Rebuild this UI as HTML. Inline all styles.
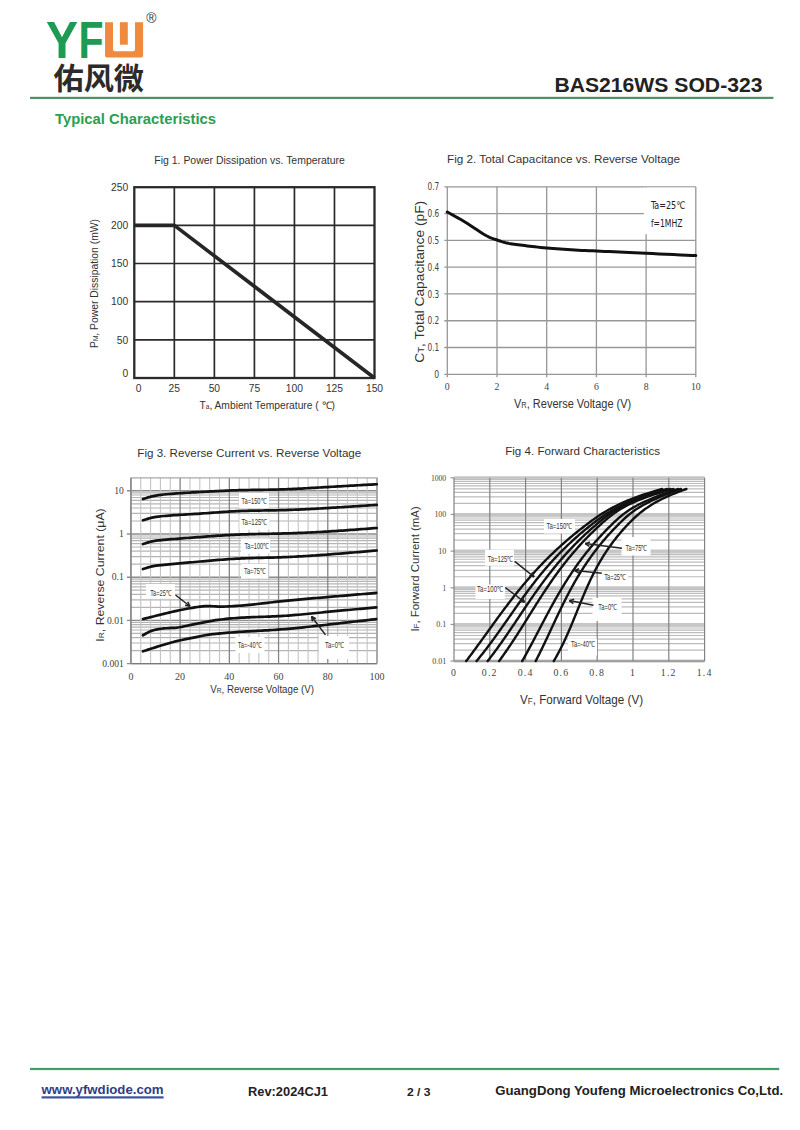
<!DOCTYPE html>
<html><head><meta charset="utf-8"><title>BAS216WS SOD-323</title>
<style>
html,body{margin:0;padding:0;background:#fff;}
body{width:800px;height:1130px;position:relative;overflow:hidden;font-family:'Liberation Sans',Arial,sans-serif;}
.abs{position:absolute;white-space:nowrap;}
#logoY{left:44px;top:10px;}
svg#page{position:absolute;left:0;top:0;}
</style></head>
<body>
<svg id="page" width="800" height="1130" viewBox="0 0 800 1130">
<!-- header -->
<text transform="translate(45.98,57.6) scale(0.924,1)" font-family="'Liberation Sans', Arial, sans-serif" font-weight="bold" font-size="52" fill="#1d9b53">Y</text>
<text transform="translate(78.45,57.6) scale(0.79,1)" font-family="'Liberation Sans', Arial, sans-serif" font-weight="bold" font-size="52" fill="#1d9b53">F</text>
<path d="M105 22.2 H113 V49.3 Q113 51.3 115 51.3 H133 Q135 51.3 135 49.3 V22.2 H143.1 V55.5 Q143.1 57.6 141 57.6 H107 Q105 57.6 105 55.5 Z" fill="#f08a3e"/>
<rect x="119.9" y="22.2" width="7.9" height="22.5" fill="#f08a3e"/>
<text x="146.3" y="22.95" font-family="'Liberation Sans', Arial, sans-serif" font-size="13.8" fill="#333">®</text>
<text x="53.5" y="88.5" font-family="'Liberation Sans','Noto Sans CJK SC','WenQuanYi Zen Hei',sans-serif" font-weight="bold" font-size="30" fill="#2b2b2b" textLength="90.5" lengthAdjust="spacingAndGlyphs">佑风微</text>
<text x="554.4" y="91.9" font-family="'Liberation Sans', Arial, sans-serif" font-weight="bold" font-size="21" fill="#222" textLength="208.1" lengthAdjust="spacingAndGlyphs">BAS216WS SOD-323</text>
<rect x="30" y="96.8" width="743.4" height="2.2" fill="#4f8f69"/>
<text x="55" y="124.4" font-family="'Liberation Sans', Arial, sans-serif" font-weight="bold" font-size="14.6" fill="#2c9e52" textLength="161" lengthAdjust="spacingAndGlyphs">Typical Characteristics</text>
<line x1="174.33" y1="187.20" x2="174.33" y2="378.00" stroke="#2a2a2a" stroke-width="1.7"/>
<line x1="214.37" y1="187.20" x2="214.37" y2="378.00" stroke="#2a2a2a" stroke-width="1.7"/>
<line x1="254.40" y1="187.20" x2="254.40" y2="378.00" stroke="#2a2a2a" stroke-width="1.7"/>
<line x1="294.43" y1="187.20" x2="294.43" y2="378.00" stroke="#2a2a2a" stroke-width="1.7"/>
<line x1="334.47" y1="187.20" x2="334.47" y2="378.00" stroke="#2a2a2a" stroke-width="1.7"/>
<line x1="134.30" y1="225.36" x2="374.50" y2="225.36" stroke="#2a2a2a" stroke-width="1.7"/>
<line x1="134.30" y1="263.52" x2="374.50" y2="263.52" stroke="#2a2a2a" stroke-width="1.7"/>
<line x1="134.30" y1="301.68" x2="374.50" y2="301.68" stroke="#2a2a2a" stroke-width="1.7"/>
<line x1="134.30" y1="339.84" x2="374.50" y2="339.84" stroke="#2a2a2a" stroke-width="1.7"/>
<rect x="134.30" y="187.20" width="240.20" height="190.80" fill="none" stroke="#2a2a2a" stroke-width="2.3"/>
<polyline points="134.30,225.36 174.33,225.36 374.50,378.00" fill="none" stroke="#262626" stroke-width="3.6" stroke-linejoin="round" stroke-linecap="butt"/>
<text x="128.30" y="190.90" font-family="'Liberation Sans', Arial, sans-serif" font-size="10.3" font-weight="normal" fill="#333" text-anchor="end" >250</text>
<text x="128.30" y="229.06" font-family="'Liberation Sans', Arial, sans-serif" font-size="10.3" font-weight="normal" fill="#333" text-anchor="end" >200</text>
<text x="128.30" y="267.22" font-family="'Liberation Sans', Arial, sans-serif" font-size="10.3" font-weight="normal" fill="#333" text-anchor="end" >150</text>
<text x="128.30" y="305.38" font-family="'Liberation Sans', Arial, sans-serif" font-size="10.3" font-weight="normal" fill="#333" text-anchor="end" >100</text>
<text x="128.30" y="343.54" font-family="'Liberation Sans', Arial, sans-serif" font-size="10.3" font-weight="normal" fill="#333" text-anchor="end" >50</text>
<text x="128.30" y="377.40" font-family="'Liberation Sans', Arial, sans-serif" font-size="10.3" font-weight="normal" fill="#333" text-anchor="end" >0</text>
<text x="138.70" y="391.50" font-family="'Liberation Sans', Arial, sans-serif" font-size="10.3" font-weight="normal" fill="#333" text-anchor="middle" >0</text>
<text x="174.33" y="391.50" font-family="'Liberation Sans', Arial, sans-serif" font-size="10.3" font-weight="normal" fill="#333" text-anchor="middle" >25</text>
<text x="214.37" y="391.50" font-family="'Liberation Sans', Arial, sans-serif" font-size="10.3" font-weight="normal" fill="#333" text-anchor="middle" >50</text>
<text x="254.40" y="391.50" font-family="'Liberation Sans', Arial, sans-serif" font-size="10.3" font-weight="normal" fill="#333" text-anchor="middle" >75</text>
<text x="294.43" y="391.50" font-family="'Liberation Sans', Arial, sans-serif" font-size="10.3" font-weight="normal" fill="#333" text-anchor="middle" >100</text>
<text x="334.47" y="391.50" font-family="'Liberation Sans', Arial, sans-serif" font-size="10.3" font-weight="normal" fill="#333" text-anchor="middle" >125</text>
<text x="374.50" y="391.50" font-family="'Liberation Sans', Arial, sans-serif" font-size="10.3" font-weight="normal" fill="#333" text-anchor="middle" >150</text>
<text x="199.50" y="409.00" font-family="'Liberation Sans', Arial, sans-serif" font-size="10.3" font-weight="normal" fill="#333" text-anchor="start" textLength="135.50" lengthAdjust="spacingAndGlyphs" >T<tspan font-size="6.5">a</tspan>, Ambient Temperature ( ℃)</text>
<text transform="translate(97.80,348.00) rotate(-90)" font-family="'Liberation Sans', Arial, sans-serif" font-size="10.3" font-weight="normal" fill="#333" textLength="129.00" lengthAdjust="spacingAndGlyphs">P<tspan font-size="6.5">M</tspan>, Power Dissipation (mW)</text>
<text x="154.30" y="164.30" font-family="'Liberation Sans', Arial, sans-serif" font-size="11.0" font-weight="normal" fill="#333" text-anchor="start" textLength="190.60" lengthAdjust="spacingAndGlyphs" >Fig 1. Power Dissipation vs. Temperature</text>
<line x1="447.30" y1="186.80" x2="447.30" y2="377.30" stroke="#979797" stroke-width="1.3"/>
<line x1="497.00" y1="186.80" x2="497.00" y2="377.30" stroke="#979797" stroke-width="1.3"/>
<line x1="546.70" y1="186.80" x2="546.70" y2="377.30" stroke="#979797" stroke-width="1.3"/>
<line x1="596.40" y1="186.80" x2="596.40" y2="377.30" stroke="#979797" stroke-width="1.3"/>
<line x1="646.10" y1="186.80" x2="646.10" y2="377.30" stroke="#979797" stroke-width="1.3"/>
<line x1="695.80" y1="186.80" x2="695.80" y2="377.30" stroke="#979797" stroke-width="1.3"/>
<line x1="444.30" y1="186.80" x2="695.80" y2="186.80" stroke="#979797" stroke-width="1.3"/>
<line x1="444.30" y1="213.59" x2="695.80" y2="213.59" stroke="#979797" stroke-width="1.3"/>
<line x1="444.30" y1="240.37" x2="695.80" y2="240.37" stroke="#979797" stroke-width="1.3"/>
<line x1="444.30" y1="267.16" x2="695.80" y2="267.16" stroke="#979797" stroke-width="1.3"/>
<line x1="444.30" y1="293.94" x2="695.80" y2="293.94" stroke="#979797" stroke-width="1.3"/>
<line x1="444.30" y1="320.73" x2="695.80" y2="320.73" stroke="#979797" stroke-width="1.3"/>
<line x1="444.30" y1="347.51" x2="695.80" y2="347.51" stroke="#979797" stroke-width="1.3"/>
<line x1="444.30" y1="374.30" x2="695.80" y2="374.30" stroke="#979797" stroke-width="1.3"/>
<rect x="643.80" y="187.60" width="51.20" height="46.60" fill="#fff"/>
<polyline points="447.30,212.00 448.64,212.75 450.41,213.73 452.51,214.89 454.86,216.19 457.37,217.59 459.94,219.05 462.50,220.54 464.94,222.00 467.40,223.54 469.99,225.23 472.67,227.01 475.36,228.81 478.02,230.58 480.56,232.24 482.93,233.74 485.07,235.00 486.96,236.02 488.64,236.85 490.16,237.53 491.56,238.10 492.91,238.59 494.23,239.05 495.58,239.51 497.00,240.00 498.44,240.51 499.83,240.99 501.20,241.44 502.58,241.88 503.98,242.28 505.45,242.67 507.01,243.04 508.68,243.40 510.45,243.73 512.27,244.03 514.16,244.30 516.12,244.56 518.16,244.81 520.29,245.06 522.51,245.32 524.83,245.60 527.25,245.89 529.75,246.20 532.34,246.50 535.02,246.81 537.79,247.12 540.66,247.42 543.63,247.72 546.70,248.00 549.90,248.27 553.24,248.54 556.69,248.81 560.23,249.06 563.83,249.31 567.47,249.55 571.13,249.78 574.78,250.00 578.37,250.20 581.90,250.38 585.42,250.55 588.99,250.71 592.67,250.86 596.50,251.03 600.54,251.21 604.85,251.40 609.41,251.61 614.18,251.83 619.13,252.06 624.25,252.29 629.52,252.54 634.93,252.79 640.46,253.04 646.10,253.30 652.25,253.58 659.10,253.90 666.30,254.23 673.53,254.57 680.43,254.89 686.67,255.18 691.91,255.42 695.80,255.60" fill="none" stroke="#111" stroke-width="3.0" stroke-linejoin="round" stroke-linecap="round"/>
<text x="650.90" y="208.70" font-family="'DejaVu Sans Condensed', 'Liberation Sans Narrow', 'Liberation Sans', sans-serif" font-size="10.5" font-weight="normal" fill="#222" text-anchor="start" textLength="34.40" lengthAdjust="spacingAndGlyphs" >Ta=25℃</text>
<text x="650.90" y="226.60" font-family="'DejaVu Sans Condensed', 'Liberation Sans Narrow', 'Liberation Sans', sans-serif" font-size="10.5" font-weight="normal" fill="#222" text-anchor="start" textLength="31.60" lengthAdjust="spacingAndGlyphs" >f=1MHZ</text>
<text x="439.20" y="190.40" font-family="'DejaVu Sans Condensed', 'Liberation Sans Narrow', 'Liberation Sans', sans-serif" font-size="10" font-weight="normal" fill="#444" text-anchor="end" textLength="11.70" lengthAdjust="spacingAndGlyphs" >0.7</text>
<text x="439.20" y="217.19" font-family="'DejaVu Sans Condensed', 'Liberation Sans Narrow', 'Liberation Sans', sans-serif" font-size="10" font-weight="normal" fill="#444" text-anchor="end" textLength="11.70" lengthAdjust="spacingAndGlyphs" >0.6</text>
<text x="439.20" y="243.97" font-family="'DejaVu Sans Condensed', 'Liberation Sans Narrow', 'Liberation Sans', sans-serif" font-size="10" font-weight="normal" fill="#444" text-anchor="end" textLength="11.70" lengthAdjust="spacingAndGlyphs" >0.5</text>
<text x="439.20" y="270.76" font-family="'DejaVu Sans Condensed', 'Liberation Sans Narrow', 'Liberation Sans', sans-serif" font-size="10" font-weight="normal" fill="#444" text-anchor="end" textLength="11.70" lengthAdjust="spacingAndGlyphs" >0.4</text>
<text x="439.20" y="297.54" font-family="'DejaVu Sans Condensed', 'Liberation Sans Narrow', 'Liberation Sans', sans-serif" font-size="10" font-weight="normal" fill="#444" text-anchor="end" textLength="11.70" lengthAdjust="spacingAndGlyphs" >0.3</text>
<text x="439.20" y="324.33" font-family="'DejaVu Sans Condensed', 'Liberation Sans Narrow', 'Liberation Sans', sans-serif" font-size="10" font-weight="normal" fill="#444" text-anchor="end" textLength="11.70" lengthAdjust="spacingAndGlyphs" >0.2</text>
<text x="439.20" y="351.11" font-family="'DejaVu Sans Condensed', 'Liberation Sans Narrow', 'Liberation Sans', sans-serif" font-size="10" font-weight="normal" fill="#444" text-anchor="end" textLength="11.70" lengthAdjust="spacingAndGlyphs" >0.1</text>
<text x="439.20" y="377.90" font-family="'DejaVu Sans Condensed', 'Liberation Sans Narrow', 'Liberation Sans', sans-serif" font-size="10" font-weight="normal" fill="#444" text-anchor="end" textLength="4.90" lengthAdjust="spacingAndGlyphs" >0</text>
<text x="447.30" y="390.30" font-family="'Liberation Serif', 'Times New Roman', serif" font-size="9.8" font-weight="normal" fill="#444" text-anchor="middle" >0</text>
<text x="497.00" y="390.30" font-family="'Liberation Serif', 'Times New Roman', serif" font-size="9.8" font-weight="normal" fill="#444" text-anchor="middle" >2</text>
<text x="546.70" y="390.30" font-family="'Liberation Serif', 'Times New Roman', serif" font-size="9.8" font-weight="normal" fill="#444" text-anchor="middle" >4</text>
<text x="596.40" y="390.30" font-family="'Liberation Serif', 'Times New Roman', serif" font-size="9.8" font-weight="normal" fill="#444" text-anchor="middle" >6</text>
<text x="646.10" y="390.30" font-family="'Liberation Serif', 'Times New Roman', serif" font-size="9.8" font-weight="normal" fill="#444" text-anchor="middle" >8</text>
<text x="695.80" y="390.30" font-family="'Liberation Serif', 'Times New Roman', serif" font-size="9.8" font-weight="normal" fill="#444" text-anchor="middle" >10</text>
<text x="514.00" y="408.30" font-family="'Liberation Sans', Arial, sans-serif" font-size="12.5" font-weight="normal" fill="#333" text-anchor="start" textLength="117.20" lengthAdjust="spacingAndGlyphs" >V<tspan font-size="8.5">R</tspan>, Reverse Voltage (V)</text>
<text transform="translate(423.90,362.80) rotate(-90)" font-family="'Liberation Sans', Arial, sans-serif" font-size="12.8" font-weight="normal" fill="#333" textLength="162.00" lengthAdjust="spacingAndGlyphs">C<tspan font-size="9">T</tspan>, Total Capacitance (pF)</text>
<text x="447.00" y="162.60" font-family="'Liberation Sans', Arial, sans-serif" font-size="11.6" font-weight="normal" fill="#333" text-anchor="start" textLength="233.00" lengthAdjust="spacingAndGlyphs" >Fig 2. Total Capacitance vs. Reverse Voltage</text>
<line x1="130.90" y1="650.60" x2="377.00" y2="650.60" stroke="#b4b4b4" stroke-width="1.2"/>
<line x1="130.90" y1="642.99" x2="377.00" y2="642.99" stroke="#b4b4b4" stroke-width="1.2"/>
<line x1="130.90" y1="637.59" x2="377.00" y2="637.59" stroke="#b4b4b4" stroke-width="1.2"/>
<line x1="130.90" y1="633.40" x2="377.00" y2="633.40" stroke="#b4b4b4" stroke-width="1.2"/>
<line x1="130.90" y1="629.98" x2="377.00" y2="629.98" stroke="#b4b4b4" stroke-width="1.2"/>
<line x1="130.90" y1="627.09" x2="377.00" y2="627.09" stroke="#b4b4b4" stroke-width="1.2"/>
<line x1="130.90" y1="624.59" x2="377.00" y2="624.59" stroke="#b4b4b4" stroke-width="1.2"/>
<line x1="130.90" y1="622.38" x2="377.00" y2="622.38" stroke="#b4b4b4" stroke-width="1.2"/>
<line x1="130.90" y1="607.40" x2="377.00" y2="607.40" stroke="#b4b4b4" stroke-width="1.2"/>
<line x1="130.90" y1="599.79" x2="377.00" y2="599.79" stroke="#b4b4b4" stroke-width="1.2"/>
<line x1="130.90" y1="594.39" x2="377.00" y2="594.39" stroke="#b4b4b4" stroke-width="1.2"/>
<line x1="130.90" y1="590.20" x2="377.00" y2="590.20" stroke="#b4b4b4" stroke-width="1.2"/>
<line x1="130.90" y1="586.78" x2="377.00" y2="586.78" stroke="#b4b4b4" stroke-width="1.2"/>
<line x1="130.90" y1="583.89" x2="377.00" y2="583.89" stroke="#b4b4b4" stroke-width="1.2"/>
<line x1="130.90" y1="581.39" x2="377.00" y2="581.39" stroke="#b4b4b4" stroke-width="1.2"/>
<line x1="130.90" y1="579.18" x2="377.00" y2="579.18" stroke="#b4b4b4" stroke-width="1.2"/>
<line x1="130.90" y1="564.20" x2="377.00" y2="564.20" stroke="#b4b4b4" stroke-width="1.2"/>
<line x1="130.90" y1="556.59" x2="377.00" y2="556.59" stroke="#b4b4b4" stroke-width="1.2"/>
<line x1="130.90" y1="551.19" x2="377.00" y2="551.19" stroke="#b4b4b4" stroke-width="1.2"/>
<line x1="130.90" y1="547.00" x2="377.00" y2="547.00" stroke="#b4b4b4" stroke-width="1.2"/>
<line x1="130.90" y1="543.58" x2="377.00" y2="543.58" stroke="#b4b4b4" stroke-width="1.2"/>
<line x1="130.90" y1="540.69" x2="377.00" y2="540.69" stroke="#b4b4b4" stroke-width="1.2"/>
<line x1="130.90" y1="538.19" x2="377.00" y2="538.19" stroke="#b4b4b4" stroke-width="1.2"/>
<line x1="130.90" y1="535.98" x2="377.00" y2="535.98" stroke="#b4b4b4" stroke-width="1.2"/>
<line x1="130.90" y1="521.00" x2="377.00" y2="521.00" stroke="#b4b4b4" stroke-width="1.2"/>
<line x1="130.90" y1="513.39" x2="377.00" y2="513.39" stroke="#b4b4b4" stroke-width="1.2"/>
<line x1="130.90" y1="507.99" x2="377.00" y2="507.99" stroke="#b4b4b4" stroke-width="1.2"/>
<line x1="130.90" y1="503.80" x2="377.00" y2="503.80" stroke="#b4b4b4" stroke-width="1.2"/>
<line x1="130.90" y1="500.38" x2="377.00" y2="500.38" stroke="#b4b4b4" stroke-width="1.2"/>
<line x1="130.90" y1="497.49" x2="377.00" y2="497.49" stroke="#b4b4b4" stroke-width="1.2"/>
<line x1="130.90" y1="494.99" x2="377.00" y2="494.99" stroke="#b4b4b4" stroke-width="1.2"/>
<line x1="130.90" y1="492.78" x2="377.00" y2="492.78" stroke="#b4b4b4" stroke-width="1.2"/>
<line x1="126.90" y1="663.60" x2="377.00" y2="663.60" stroke="#8c8c8c" stroke-width="1.4"/>
<line x1="126.90" y1="620.40" x2="377.00" y2="620.40" stroke="#8c8c8c" stroke-width="1.4"/>
<line x1="126.90" y1="577.20" x2="377.00" y2="577.20" stroke="#8c8c8c" stroke-width="1.4"/>
<line x1="126.90" y1="534.00" x2="377.00" y2="534.00" stroke="#8c8c8c" stroke-width="1.4"/>
<line x1="126.90" y1="490.80" x2="377.00" y2="490.80" stroke="#8c8c8c" stroke-width="1.4"/>
<line x1="130.90" y1="477.80" x2="130.90" y2="663.60" stroke="#858585" stroke-width="1.3"/>
<line x1="140.74" y1="477.80" x2="140.74" y2="663.60" stroke="#c4c4c4" stroke-width="1.1"/>
<line x1="150.59" y1="477.80" x2="150.59" y2="663.60" stroke="#c4c4c4" stroke-width="1.1"/>
<line x1="160.43" y1="477.80" x2="160.43" y2="663.60" stroke="#c4c4c4" stroke-width="1.1"/>
<line x1="170.28" y1="477.80" x2="170.28" y2="663.60" stroke="#c4c4c4" stroke-width="1.1"/>
<line x1="180.12" y1="477.80" x2="180.12" y2="663.60" stroke="#858585" stroke-width="1.3"/>
<line x1="189.96" y1="477.80" x2="189.96" y2="663.60" stroke="#c4c4c4" stroke-width="1.1"/>
<line x1="199.81" y1="477.80" x2="199.81" y2="663.60" stroke="#c4c4c4" stroke-width="1.1"/>
<line x1="209.65" y1="477.80" x2="209.65" y2="663.60" stroke="#c4c4c4" stroke-width="1.1"/>
<line x1="219.50" y1="477.80" x2="219.50" y2="663.60" stroke="#c4c4c4" stroke-width="1.1"/>
<line x1="229.34" y1="477.80" x2="229.34" y2="663.60" stroke="#858585" stroke-width="1.3"/>
<line x1="239.18" y1="477.80" x2="239.18" y2="663.60" stroke="#c4c4c4" stroke-width="1.1"/>
<line x1="249.03" y1="477.80" x2="249.03" y2="663.60" stroke="#c4c4c4" stroke-width="1.1"/>
<line x1="258.87" y1="477.80" x2="258.87" y2="663.60" stroke="#c4c4c4" stroke-width="1.1"/>
<line x1="268.72" y1="477.80" x2="268.72" y2="663.60" stroke="#c4c4c4" stroke-width="1.1"/>
<line x1="278.56" y1="477.80" x2="278.56" y2="663.60" stroke="#858585" stroke-width="1.3"/>
<line x1="288.40" y1="477.80" x2="288.40" y2="663.60" stroke="#c4c4c4" stroke-width="1.1"/>
<line x1="298.25" y1="477.80" x2="298.25" y2="663.60" stroke="#c4c4c4" stroke-width="1.1"/>
<line x1="308.09" y1="477.80" x2="308.09" y2="663.60" stroke="#c4c4c4" stroke-width="1.1"/>
<line x1="317.94" y1="477.80" x2="317.94" y2="663.60" stroke="#c4c4c4" stroke-width="1.1"/>
<line x1="327.78" y1="477.80" x2="327.78" y2="663.60" stroke="#858585" stroke-width="1.3"/>
<line x1="337.62" y1="477.80" x2="337.62" y2="663.60" stroke="#c4c4c4" stroke-width="1.1"/>
<line x1="347.47" y1="477.80" x2="347.47" y2="663.60" stroke="#c4c4c4" stroke-width="1.1"/>
<line x1="357.31" y1="477.80" x2="357.31" y2="663.60" stroke="#c4c4c4" stroke-width="1.1"/>
<line x1="367.16" y1="477.80" x2="367.16" y2="663.60" stroke="#c4c4c4" stroke-width="1.1"/>
<line x1="377.00" y1="477.80" x2="377.00" y2="663.60" stroke="#858585" stroke-width="1.3"/>
<line x1="130.90" y1="477.80" x2="377.00" y2="477.80" stroke="#a8a8a8" stroke-width="1.3"/>
<line x1="130.90" y1="663.60" x2="377.00" y2="663.60" stroke="#7a7a7a" stroke-width="1.4"/>
<line x1="130.90" y1="477.80" x2="130.90" y2="663.60" stroke="#8a8a8a" stroke-width="1.4"/>
<line x1="377.00" y1="477.80" x2="377.00" y2="663.60" stroke="#a8a8a8" stroke-width="1.3"/>
<rect x="239.00" y="493.00" width="30.00" height="15.00" fill="#fff"/>
<rect x="239.50" y="514.50" width="30.00" height="15.00" fill="#fff"/>
<rect x="241.00" y="538.50" width="29.00" height="15.00" fill="#fff"/>
<rect x="241.00" y="564.00" width="27.00" height="14.50" fill="#fff"/>
<rect x="146.00" y="584.00" width="29.00" height="14.50" fill="#fff"/>
<rect x="235.50" y="637.00" width="29.00" height="16.00" fill="#fff"/>
<rect x="319.00" y="636.00" width="30.00" height="23.00" fill="#fff"/>
<polyline points="143.00,499.00 145.60,498.17 148.19,497.38 150.79,496.68 153.39,496.08 155.99,495.58 158.58,495.17 161.18,494.82 163.78,494.51 166.38,494.24 168.97,494.01 171.57,493.79 174.17,493.59 176.76,493.41 179.36,493.24 181.96,493.08 184.56,492.92 187.15,492.76 189.75,492.61 192.35,492.46 194.94,492.31 197.54,492.17 200.14,492.02 202.74,491.88 205.33,491.73 207.93,491.59 210.53,491.45 213.12,491.31 215.72,491.17 218.32,491.04 220.92,490.92 223.51,490.80 226.11,490.68 228.71,490.57 231.31,490.47 233.90,490.38 236.50,490.29 239.10,490.22 241.69,490.15 244.29,490.10 246.89,490.04 249.49,490.00 252.08,489.96 254.68,489.92 257.28,489.88 259.88,489.85 262.47,489.81 265.07,489.77 267.67,489.73 270.26,489.68 272.86,489.63 275.46,489.57 278.06,489.50 280.65,489.42 283.25,489.33 285.85,489.24 288.44,489.14 291.04,489.03 293.64,488.91 296.24,488.79 298.83,488.66 301.43,488.53 304.03,488.39 306.62,488.25 309.22,488.10 311.82,487.95 314.42,487.80 317.01,487.65 319.61,487.50 322.21,487.34 324.81,487.19 327.40,487.04 330.00,486.88 332.60,486.73 335.19,486.58 337.79,486.43 340.39,486.28 342.99,486.13 345.58,485.98 348.18,485.84 350.78,485.69 353.38,485.54 355.97,485.40 358.57,485.26 361.17,485.11 363.76,484.97 366.36,484.82 368.96,484.68 371.56,484.54 374.15,484.39 376.75,484.25" fill="none" stroke="#111" stroke-width="2.7" stroke-linejoin="round" stroke-linecap="round"/>
<polyline points="143.00,520.25 145.60,519.41 148.19,518.62 150.79,517.93 153.39,517.37 155.99,516.92 158.58,516.57 161.18,516.28 163.78,516.03 166.38,515.80 168.97,515.59 171.57,515.40 174.17,515.22 176.76,515.05 179.36,514.89 181.96,514.74 184.56,514.58 187.15,514.43 189.75,514.27 192.35,514.12 194.94,513.96 197.54,513.79 200.14,513.62 202.74,513.45 205.33,513.26 207.93,513.08 210.53,512.89 213.12,512.69 215.72,512.50 218.32,512.31 220.92,512.12 223.51,511.94 226.11,511.77 228.71,511.60 231.31,511.45 233.90,511.30 236.50,511.17 239.10,511.05 241.69,510.95 244.29,510.86 246.89,510.79 249.49,510.72 252.08,510.67 254.68,510.62 257.28,510.58 259.88,510.54 262.47,510.50 265.07,510.46 267.67,510.43 270.26,510.39 272.86,510.35 275.46,510.30 278.06,510.25 280.65,510.19 283.25,510.12 285.85,510.04 288.44,509.95 291.04,509.86 293.64,509.76 296.24,509.66 298.83,509.55 301.43,509.43 304.03,509.31 306.62,509.18 309.22,509.05 311.82,508.92 314.42,508.78 317.01,508.63 319.61,508.49 322.21,508.34 324.81,508.19 327.40,508.04 330.00,507.88 332.60,507.72 335.19,507.57 337.79,507.41 340.39,507.24 342.99,507.08 345.58,506.92 348.18,506.75 350.78,506.59 353.38,506.42 355.97,506.26 358.57,506.09 361.17,505.92 363.76,505.75 366.36,505.58 368.96,505.41 371.56,505.24 374.15,505.07 376.75,504.90" fill="none" stroke="#111" stroke-width="2.7" stroke-linejoin="round" stroke-linecap="round"/>
<polyline points="143.00,544.00 145.60,543.16 148.19,542.37 150.79,541.68 153.39,541.13 155.99,540.70 158.58,540.35 161.18,540.07 163.78,539.83 166.38,539.60 168.97,539.39 171.57,539.18 174.17,538.98 176.76,538.79 179.36,538.59 181.96,538.40 184.56,538.20 187.15,538.01 189.75,537.81 192.35,537.62 194.94,537.42 197.54,537.22 200.14,537.03 202.74,536.83 205.33,536.64 207.93,536.44 210.53,536.25 213.12,536.07 215.72,535.89 218.32,535.71 220.92,535.54 223.51,535.37 226.11,535.21 228.71,535.06 231.31,534.92 233.90,534.79 236.50,534.67 239.10,534.55 241.69,534.45 244.29,534.36 246.89,534.28 249.49,534.21 252.08,534.14 254.68,534.08 257.28,534.02 259.88,533.97 262.47,533.92 265.07,533.87 267.67,533.82 270.26,533.77 272.86,533.71 275.46,533.66 278.06,533.60 280.65,533.53 283.25,533.47 285.85,533.39 288.44,533.31 291.04,533.23 293.64,533.14 296.24,533.05 298.83,532.95 301.43,532.84 304.03,532.73 306.62,532.62 309.22,532.50 311.82,532.38 314.42,532.25 317.01,532.12 319.61,531.98 322.21,531.84 324.81,531.69 327.40,531.54 330.00,531.38 332.60,531.22 335.19,531.05 337.79,530.88 340.39,530.70 342.99,530.53 345.58,530.35 348.18,530.16 350.78,529.97 353.38,529.78 355.97,529.59 358.57,529.40 361.17,529.20 363.76,529.00 366.36,528.80 368.96,528.60 371.56,528.40 374.15,528.20 376.75,528.00" fill="none" stroke="#111" stroke-width="2.7" stroke-linejoin="round" stroke-linecap="round"/>
<polyline points="143.00,569.00 145.60,568.16 148.19,567.37 150.79,566.68 153.39,566.13 155.99,565.70 158.58,565.36 161.18,565.08 163.78,564.82 166.38,564.58 168.97,564.33 171.57,564.09 174.17,563.86 176.76,563.62 179.36,563.39 181.96,563.16 184.56,562.93 187.15,562.69 189.75,562.46 192.35,562.23 194.94,562.00 197.54,561.77 200.14,561.53 202.74,561.30 205.33,561.07 207.93,560.83 210.53,560.60 213.12,560.38 215.72,560.16 218.32,559.94 220.92,559.73 223.51,559.53 226.11,559.34 228.71,559.16 231.31,558.98 233.90,558.82 236.50,558.68 239.10,558.55 241.69,558.43 244.29,558.32 246.89,558.23 249.49,558.14 252.08,558.07 254.68,557.99 257.28,557.93 259.88,557.87 262.47,557.81 265.07,557.75 267.67,557.69 270.26,557.62 272.86,557.55 275.46,557.48 278.06,557.40 280.65,557.31 283.25,557.21 285.85,557.10 288.44,556.99 291.04,556.87 293.64,556.74 296.24,556.60 298.83,556.46 301.43,556.31 304.03,556.16 306.62,555.99 309.22,555.83 311.82,555.66 314.42,555.48 317.01,555.30 319.61,555.12 322.21,554.93 324.81,554.74 327.40,554.55 330.00,554.35 332.60,554.15 335.19,553.95 337.79,553.74 340.39,553.54 342.99,553.33 345.58,553.12 348.18,552.90 350.78,552.69 353.38,552.48 355.97,552.26 358.57,552.04 361.17,551.82 363.76,551.60 366.36,551.38 368.96,551.16 371.56,550.94 374.15,550.72 376.75,550.50" fill="none" stroke="#111" stroke-width="2.7" stroke-linejoin="round" stroke-linecap="round"/>
<polyline points="143.00,619.00 145.59,618.36 148.18,617.73 150.78,617.09 153.37,616.44 155.96,615.80 158.55,615.15 161.14,614.50 163.73,613.85 166.32,613.21 168.92,612.58 171.51,611.97 174.10,611.38 176.69,610.81 179.28,610.26 181.88,609.72 184.47,609.21 187.06,608.72 189.65,608.25 192.24,607.81 194.83,607.40 197.43,607.01 200.02,606.66 202.61,606.35 205.20,606.11 207.79,606.00 210.38,606.07 212.97,606.25 215.57,606.45 218.16,606.61 220.75,606.64 223.34,606.58 225.93,606.48 228.53,606.36 231.12,606.23 233.71,606.08 236.30,605.92 238.89,605.73 241.48,605.53 244.07,605.31 246.67,605.08 249.26,604.83 251.85,604.56 254.44,604.29 257.03,604.01 259.62,603.72 262.22,603.43 264.81,603.13 267.40,602.83 269.99,602.53 272.58,602.23 275.18,601.94 277.77,601.65 280.36,601.37 282.95,601.10 285.54,600.83 288.13,600.57 290.73,600.32 293.32,600.07 295.91,599.82 298.50,599.58 301.09,599.35 303.68,599.12 306.27,598.89 308.87,598.66 311.46,598.44 314.05,598.22 316.64,598.00 319.23,597.78 321.82,597.56 324.42,597.34 327.01,597.12 329.60,596.90 332.19,596.68 334.78,596.46 337.38,596.24 339.97,596.02 342.56,595.80 345.15,595.58 347.74,595.36 350.33,595.13 352.93,594.91 355.52,594.69 358.11,594.47 360.70,594.24 363.29,594.02 365.88,593.80 368.48,593.57 371.07,593.35 373.66,593.12 376.25,592.90" fill="none" stroke="#111" stroke-width="2.7" stroke-linejoin="round" stroke-linecap="round"/>
<polyline points="143.00,635.25 145.59,633.73 148.18,632.33 150.78,631.14 153.37,630.23 155.96,629.57 158.55,629.08 161.14,628.72 163.73,628.46 166.32,628.27 168.92,628.12 171.51,627.97 174.10,627.80 176.69,627.57 179.28,627.25 181.88,626.81 184.47,626.30 187.06,625.74 189.65,625.18 192.24,624.65 194.83,624.16 197.43,623.68 200.02,623.19 202.61,622.68 205.20,622.14 207.79,621.60 210.38,621.08 212.97,620.60 215.57,620.19 218.16,619.83 220.75,619.51 223.34,619.22 225.93,618.96 228.53,618.70 231.12,618.46 233.71,618.23 236.30,618.03 238.89,617.84 241.48,617.67 244.07,617.53 246.67,617.40 249.26,617.28 251.85,617.18 254.44,617.08 257.03,616.99 259.62,616.91 262.22,616.82 264.81,616.74 267.40,616.65 269.99,616.56 272.58,616.46 275.18,616.35 277.77,616.22 280.36,616.08 282.95,615.93 285.54,615.76 288.13,615.58 290.73,615.38 293.32,615.18 295.91,614.96 298.50,614.73 301.09,614.50 303.68,614.26 306.27,614.01 308.87,613.76 311.46,613.51 314.05,613.25 316.64,612.99 319.23,612.73 321.82,612.47 324.42,612.21 327.01,611.95 329.60,611.70 332.19,611.44 334.78,611.19 337.38,610.95 339.97,610.70 342.56,610.46 345.15,610.21 347.74,609.97 350.33,609.74 352.93,609.50 355.52,609.26 358.11,609.03 360.70,608.79 363.29,608.56 365.88,608.33 368.48,608.09 371.07,607.86 373.66,607.63 376.25,607.40" fill="none" stroke="#111" stroke-width="2.7" stroke-linejoin="round" stroke-linecap="round"/>
<polyline points="143.00,651.25 145.59,650.43 148.18,649.61 150.78,648.79 153.37,647.97 155.96,647.15 158.55,646.33 161.14,645.52 163.73,644.72 166.32,643.94 168.92,643.19 171.51,642.48 174.10,641.80 176.69,641.15 179.28,640.55 181.88,639.97 184.47,639.44 187.06,638.92 189.65,638.41 192.24,637.90 194.83,637.38 197.43,636.84 200.02,636.29 202.61,635.76 205.20,635.27 207.79,634.83 210.38,634.46 212.97,634.14 215.57,633.86 218.16,633.60 220.75,633.36 223.34,633.13 225.93,632.91 228.53,632.70 231.12,632.49 233.71,632.30 236.30,632.12 238.89,631.94 241.48,631.77 244.07,631.62 246.67,631.46 249.26,631.32 251.85,631.17 254.44,631.03 257.03,630.89 259.62,630.75 262.22,630.60 264.81,630.46 267.40,630.31 269.99,630.15 272.58,629.99 275.18,629.82 277.77,629.63 280.36,629.44 282.95,629.24 285.54,629.03 288.13,628.80 290.73,628.57 293.32,628.33 295.91,628.09 298.50,627.83 301.09,627.57 303.68,627.30 306.27,627.03 308.87,626.75 311.46,626.47 314.05,626.19 316.64,625.90 319.23,625.61 321.82,625.32 324.42,625.02 327.01,624.73 329.60,624.43 332.19,624.14 334.78,623.84 337.38,623.55 339.97,623.25 342.56,622.96 345.15,622.66 347.74,622.37 350.33,622.07 352.93,621.77 355.52,621.48 358.11,621.18 360.70,620.88 363.29,620.59 365.88,620.29 368.48,619.99 371.07,619.69 373.66,619.40 376.25,619.10" fill="none" stroke="#111" stroke-width="2.7" stroke-linejoin="round" stroke-linecap="round"/>
<text x="241.60" y="504.00" font-family="'Liberation Sans', Arial, sans-serif" font-size="8.4" font-weight="normal" fill="#333" text-anchor="start" textLength="24.40" lengthAdjust="spacingAndGlyphs" >Ta=150℃</text>
<text x="241.60" y="525.10" font-family="'Liberation Sans', Arial, sans-serif" font-size="8.4" font-weight="normal" fill="#333" text-anchor="start" textLength="25.40" lengthAdjust="spacingAndGlyphs" >Ta=125℃</text>
<text x="244.40" y="549.00" font-family="'Liberation Sans', Arial, sans-serif" font-size="8.4" font-weight="normal" fill="#333" text-anchor="start" textLength="24.30" lengthAdjust="spacingAndGlyphs" >Ta=100℃</text>
<text x="244.00" y="574.25" font-family="'Liberation Sans', Arial, sans-serif" font-size="8.4" font-weight="normal" fill="#333" text-anchor="start" textLength="21.40" lengthAdjust="spacingAndGlyphs" >Ta=75℃</text>
<text x="150.20" y="595.50" font-family="'Liberation Sans', Arial, sans-serif" font-size="8.4" font-weight="normal" fill="#333" text-anchor="start" textLength="21.10" lengthAdjust="spacingAndGlyphs" >Ta=25℃</text>
<text x="237.80" y="648.30" font-family="'Liberation Sans', Arial, sans-serif" font-size="8.4" font-weight="normal" fill="#333" text-anchor="start" textLength="23.40" lengthAdjust="spacingAndGlyphs" >Ta=-40℃</text>
<text x="325.00" y="648.30" font-family="'Liberation Sans', Arial, sans-serif" font-size="8.4" font-weight="normal" fill="#333" text-anchor="start" textLength="18.70" lengthAdjust="spacingAndGlyphs" >Ta=0℃</text>
<line x1="175.50" y1="595.00" x2="189.90" y2="606.25" stroke="#222" stroke-width="1.5"/>
<line x1="189.90" y1="606.25" x2="187.69" y2="601.76" stroke="#222" stroke-width="1.5"/>
<line x1="189.90" y1="606.25" x2="185.01" y2="605.19" stroke="#222" stroke-width="1.5"/>
<line x1="325.50" y1="634.90" x2="311.50" y2="616.50" stroke="#222" stroke-width="1.5"/>
<line x1="311.50" y1="616.50" x2="312.50" y2="621.40" stroke="#222" stroke-width="1.5"/>
<line x1="311.50" y1="616.50" x2="315.96" y2="618.77" stroke="#222" stroke-width="1.5"/>
<text x="123.80" y="494.00" font-family="'Liberation Serif', 'Times New Roman', serif" font-size="9.6" font-weight="normal" fill="#444" text-anchor="end" >10</text>
<text x="123.80" y="537.20" font-family="'Liberation Serif', 'Times New Roman', serif" font-size="9.6" font-weight="normal" fill="#444" text-anchor="end" >1</text>
<text x="123.80" y="580.40" font-family="'Liberation Serif', 'Times New Roman', serif" font-size="9.6" font-weight="normal" fill="#444" text-anchor="end" >0.1</text>
<text x="123.80" y="623.60" font-family="'Liberation Serif', 'Times New Roman', serif" font-size="9.6" font-weight="normal" fill="#444" text-anchor="end" >0.01</text>
<text x="123.80" y="666.80" font-family="'Liberation Serif', 'Times New Roman', serif" font-size="9.6" font-weight="normal" fill="#444" text-anchor="end" >0.001</text>
<text x="130.90" y="679.60" font-family="'Liberation Serif', 'Times New Roman', serif" font-size="10.0" font-weight="normal" fill="#444" text-anchor="middle" >0</text>
<text x="180.12" y="679.60" font-family="'Liberation Serif', 'Times New Roman', serif" font-size="10.0" font-weight="normal" fill="#444" text-anchor="middle" >20</text>
<text x="229.34" y="679.60" font-family="'Liberation Serif', 'Times New Roman', serif" font-size="10.0" font-weight="normal" fill="#444" text-anchor="middle" >40</text>
<text x="278.56" y="679.60" font-family="'Liberation Serif', 'Times New Roman', serif" font-size="10.0" font-weight="normal" fill="#444" text-anchor="middle" >60</text>
<text x="327.78" y="679.60" font-family="'Liberation Serif', 'Times New Roman', serif" font-size="10.0" font-weight="normal" fill="#444" text-anchor="middle" >80</text>
<text x="377.00" y="679.60" font-family="'Liberation Serif', 'Times New Roman', serif" font-size="10.0" font-weight="normal" fill="#444" text-anchor="middle" >100</text>
<text x="210.20" y="693.40" font-family="'Liberation Sans', Arial, sans-serif" font-size="11.6" font-weight="normal" fill="#333" text-anchor="start" textLength="103.80" lengthAdjust="spacingAndGlyphs" >V<tspan font-size="8">R</tspan>, Reverse Voltage (V)</text>
<text transform="translate(103.70,641.70) rotate(-90)" font-family="'Liberation Sans', Arial, sans-serif" font-size="10.9" font-weight="normal" fill="#333" textLength="133.40" lengthAdjust="spacingAndGlyphs">I<tspan font-size="7.5">R</tspan>, Reverse Current (μA)</text>
<text x="137.30" y="456.60" font-family="'Liberation Sans', Arial, sans-serif" font-size="11.6" font-weight="normal" fill="#333" text-anchor="start" textLength="224.00" lengthAdjust="spacingAndGlyphs" >Fig 3. Reverse Current vs. Reverse Voltage</text>
<line x1="454.00" y1="650.06" x2="704.60" y2="650.06" stroke="#bcbcbc" stroke-width="1.2"/>
<line x1="454.00" y1="643.61" x2="704.60" y2="643.61" stroke="#bcbcbc" stroke-width="1.2"/>
<line x1="454.00" y1="639.03" x2="704.60" y2="639.03" stroke="#bcbcbc" stroke-width="1.2"/>
<line x1="454.00" y1="635.48" x2="704.60" y2="635.48" stroke="#bcbcbc" stroke-width="1.2"/>
<line x1="454.00" y1="632.57" x2="704.60" y2="632.57" stroke="#bcbcbc" stroke-width="1.2"/>
<line x1="454.00" y1="630.12" x2="704.60" y2="630.12" stroke="#bcbcbc" stroke-width="1.2"/>
<line x1="454.00" y1="627.99" x2="704.60" y2="627.99" stroke="#bcbcbc" stroke-width="1.2"/>
<line x1="454.00" y1="626.12" x2="704.60" y2="626.12" stroke="#bcbcbc" stroke-width="1.2"/>
<line x1="454.00" y1="613.40" x2="704.60" y2="613.40" stroke="#bcbcbc" stroke-width="1.2"/>
<line x1="454.00" y1="606.95" x2="704.60" y2="606.95" stroke="#bcbcbc" stroke-width="1.2"/>
<line x1="454.00" y1="602.37" x2="704.60" y2="602.37" stroke="#bcbcbc" stroke-width="1.2"/>
<line x1="454.00" y1="598.82" x2="704.60" y2="598.82" stroke="#bcbcbc" stroke-width="1.2"/>
<line x1="454.00" y1="595.91" x2="704.60" y2="595.91" stroke="#bcbcbc" stroke-width="1.2"/>
<line x1="454.00" y1="593.46" x2="704.60" y2="593.46" stroke="#bcbcbc" stroke-width="1.2"/>
<line x1="454.00" y1="591.33" x2="704.60" y2="591.33" stroke="#bcbcbc" stroke-width="1.2"/>
<line x1="454.00" y1="589.46" x2="704.60" y2="589.46" stroke="#bcbcbc" stroke-width="1.2"/>
<line x1="454.00" y1="576.74" x2="704.60" y2="576.74" stroke="#bcbcbc" stroke-width="1.2"/>
<line x1="454.00" y1="570.29" x2="704.60" y2="570.29" stroke="#bcbcbc" stroke-width="1.2"/>
<line x1="454.00" y1="565.71" x2="704.60" y2="565.71" stroke="#bcbcbc" stroke-width="1.2"/>
<line x1="454.00" y1="562.16" x2="704.60" y2="562.16" stroke="#bcbcbc" stroke-width="1.2"/>
<line x1="454.00" y1="559.25" x2="704.60" y2="559.25" stroke="#bcbcbc" stroke-width="1.2"/>
<line x1="454.00" y1="556.80" x2="704.60" y2="556.80" stroke="#bcbcbc" stroke-width="1.2"/>
<line x1="454.00" y1="554.67" x2="704.60" y2="554.67" stroke="#bcbcbc" stroke-width="1.2"/>
<line x1="454.00" y1="552.80" x2="704.60" y2="552.80" stroke="#bcbcbc" stroke-width="1.2"/>
<line x1="454.00" y1="540.08" x2="704.60" y2="540.08" stroke="#bcbcbc" stroke-width="1.2"/>
<line x1="454.00" y1="533.63" x2="704.60" y2="533.63" stroke="#bcbcbc" stroke-width="1.2"/>
<line x1="454.00" y1="529.05" x2="704.60" y2="529.05" stroke="#bcbcbc" stroke-width="1.2"/>
<line x1="454.00" y1="525.50" x2="704.60" y2="525.50" stroke="#bcbcbc" stroke-width="1.2"/>
<line x1="454.00" y1="522.59" x2="704.60" y2="522.59" stroke="#bcbcbc" stroke-width="1.2"/>
<line x1="454.00" y1="520.14" x2="704.60" y2="520.14" stroke="#bcbcbc" stroke-width="1.2"/>
<line x1="454.00" y1="518.01" x2="704.60" y2="518.01" stroke="#bcbcbc" stroke-width="1.2"/>
<line x1="454.00" y1="516.14" x2="704.60" y2="516.14" stroke="#bcbcbc" stroke-width="1.2"/>
<line x1="454.00" y1="503.42" x2="704.60" y2="503.42" stroke="#bcbcbc" stroke-width="1.2"/>
<line x1="454.00" y1="496.97" x2="704.60" y2="496.97" stroke="#bcbcbc" stroke-width="1.2"/>
<line x1="454.00" y1="492.39" x2="704.60" y2="492.39" stroke="#bcbcbc" stroke-width="1.2"/>
<line x1="454.00" y1="488.84" x2="704.60" y2="488.84" stroke="#bcbcbc" stroke-width="1.2"/>
<line x1="454.00" y1="485.93" x2="704.60" y2="485.93" stroke="#bcbcbc" stroke-width="1.2"/>
<line x1="454.00" y1="483.48" x2="704.60" y2="483.48" stroke="#bcbcbc" stroke-width="1.2"/>
<line x1="454.00" y1="481.35" x2="704.60" y2="481.35" stroke="#bcbcbc" stroke-width="1.2"/>
<line x1="454.00" y1="479.48" x2="704.60" y2="479.48" stroke="#bcbcbc" stroke-width="1.2"/>
<line x1="454.00" y1="661.10" x2="704.60" y2="661.10" stroke="#c6c6c6" stroke-width="3.0"/>
<line x1="450.50" y1="661.10" x2="454.00" y2="661.10" stroke="#999" stroke-width="1.2"/>
<line x1="454.00" y1="624.44" x2="704.60" y2="624.44" stroke="#c6c6c6" stroke-width="3.0"/>
<line x1="450.50" y1="624.44" x2="454.00" y2="624.44" stroke="#999" stroke-width="1.2"/>
<line x1="454.00" y1="587.78" x2="704.60" y2="587.78" stroke="#c6c6c6" stroke-width="3.0"/>
<line x1="450.50" y1="587.78" x2="454.00" y2="587.78" stroke="#999" stroke-width="1.2"/>
<line x1="454.00" y1="551.12" x2="704.60" y2="551.12" stroke="#c6c6c6" stroke-width="3.0"/>
<line x1="450.50" y1="551.12" x2="454.00" y2="551.12" stroke="#999" stroke-width="1.2"/>
<line x1="454.00" y1="514.46" x2="704.60" y2="514.46" stroke="#c6c6c6" stroke-width="3.0"/>
<line x1="450.50" y1="514.46" x2="454.00" y2="514.46" stroke="#999" stroke-width="1.2"/>
<line x1="454.00" y1="477.80" x2="704.60" y2="477.80" stroke="#c6c6c6" stroke-width="3.0"/>
<line x1="450.50" y1="477.80" x2="454.00" y2="477.80" stroke="#999" stroke-width="1.2"/>
<line x1="454.00" y1="477.80" x2="454.00" y2="661.10" stroke="#828282" stroke-width="1.2"/>
<line x1="489.80" y1="477.80" x2="489.80" y2="661.10" stroke="#828282" stroke-width="1.2"/>
<line x1="525.60" y1="477.80" x2="525.60" y2="661.10" stroke="#828282" stroke-width="1.2"/>
<line x1="561.40" y1="477.80" x2="561.40" y2="661.10" stroke="#828282" stroke-width="1.2"/>
<line x1="597.20" y1="477.80" x2="597.20" y2="661.10" stroke="#828282" stroke-width="1.2"/>
<line x1="633.00" y1="477.80" x2="633.00" y2="661.10" stroke="#828282" stroke-width="1.2"/>
<line x1="668.80" y1="477.80" x2="668.80" y2="661.10" stroke="#828282" stroke-width="1.2"/>
<line x1="704.60" y1="477.80" x2="704.60" y2="661.10" stroke="#828282" stroke-width="1.2"/>
<line x1="454.00" y1="661.10" x2="704.60" y2="661.10" stroke="#8a8a8a" stroke-width="1.4"/>
<rect x="544.00" y="519.00" width="31.00" height="14.50" fill="#fff"/>
<rect x="485.00" y="549.80" width="29.00" height="16.00" fill="#fff"/>
<rect x="475.50" y="584.50" width="29.50" height="14.50" fill="#fff"/>
<rect x="621.50" y="537.00" width="29.00" height="18.50" fill="#fff"/>
<rect x="598.50" y="571.50" width="29.50" height="12.00" fill="#fff"/>
<rect x="592.50" y="598.00" width="29.00" height="23.00" fill="#fff"/>
<rect x="568.00" y="638.50" width="29.00" height="17.00" fill="#fff"/>
<polyline points="466.16,661.10 467.25,659.67 468.34,658.23 469.42,656.80 470.49,655.36 471.56,653.93 472.63,652.49 473.69,651.06 474.75,649.63 475.80,648.19 476.85,646.76 477.90,645.32 478.94,643.89 479.98,642.46 481.02,641.02 482.06,639.59 483.09,638.15 484.13,636.72 485.16,635.28 486.19,633.85 487.23,632.42 488.26,630.98 489.29,629.55 490.33,628.11 491.36,626.68 492.40,625.24 493.43,623.81 494.47,622.38 495.51,620.94 496.55,619.51 497.60,618.07 498.65,616.64 499.70,615.21 500.76,613.77 501.82,612.34 502.88,610.90 503.95,609.47 505.02,608.03 506.10,606.60 507.19,605.17 508.28,603.73 509.37,602.30 510.48,600.86 511.59,599.43 512.70,598.00 513.83,596.56 514.96,595.13 516.10,593.69 517.24,592.26 518.40,590.82 519.57,589.39 520.74,587.96 521.92,586.52 523.12,585.09 524.32,583.65 525.53,582.22 526.76,580.78 528.00,579.35 529.24,577.92 530.50,576.48 531.77,575.05 533.06,573.61 534.35,572.18 535.66,570.75 536.98,569.31 538.32,567.88 539.67,566.44 541.03,565.01 542.41,563.57 543.80,562.14 545.21,560.71 546.63,559.27 548.07,557.84 549.52,556.40 550.99,554.97 552.48,553.53 553.98,552.10 555.51,550.67 557.04,549.23 558.60,547.80 560.18,546.36 561.77,544.93 563.38,543.50 565.01,542.06 566.66,540.63 568.33,539.19 570.02,537.76 571.73,536.32 573.46,534.89 575.22,533.46 576.99,532.02 578.78,530.59 580.60,529.15 582.44,527.72 584.30,526.29 586.18,524.85 588.09,523.42 590.02,521.98 591.98,520.55 593.97,519.11 596.01,517.68 598.11,516.25 600.28,514.81 602.52,513.38 604.85,511.94 607.28,510.51 609.81,509.07 612.46,507.64 615.24,506.21 618.16,504.77 621.22,503.34 624.44,501.90 627.83,500.47 631.39,499.04 635.14,497.60 639.09,496.17 643.25,494.73 647.62,493.30 652.22,491.86 657.06,490.43 662.14,489.00" fill="none" stroke="#111" stroke-width="2.4" stroke-linejoin="round" stroke-linecap="round"/>
<polyline points="476.54,661.10 477.72,659.67 478.89,658.23 480.05,656.80 481.20,655.36 482.34,653.93 483.47,652.49 484.58,651.06 485.69,649.63 486.79,648.19 487.88,646.76 488.96,645.32 490.04,643.89 491.11,642.46 492.17,641.02 493.22,639.59 494.27,638.15 495.31,636.72 496.34,635.28 497.37,633.85 498.40,632.42 499.42,630.98 500.44,629.55 501.45,628.11 502.46,626.68 503.47,625.24 504.48,623.81 505.48,622.38 506.49,620.94 507.49,619.51 508.49,618.07 509.49,616.64 510.49,615.21 511.49,613.77 512.50,612.34 513.50,610.90 514.51,609.47 515.51,608.03 516.52,606.60 517.54,605.17 518.55,603.73 519.57,602.30 520.60,600.86 521.63,599.43 522.66,598.00 523.70,596.56 524.75,595.13 525.80,593.69 526.85,592.26 527.92,590.82 528.99,589.39 530.07,587.96 531.16,586.52 532.25,585.09 533.36,583.65 534.47,582.22 535.60,580.78 536.73,579.35 537.87,577.92 539.03,576.48 540.20,575.05 541.37,573.61 542.56,572.18 543.77,570.75 544.98,569.31 546.21,567.88 547.46,566.44 548.71,565.01 549.98,563.57 551.27,562.14 552.57,560.71 553.89,559.27 555.22,557.84 556.57,556.40 557.94,554.97 559.32,553.53 560.73,552.10 562.14,550.67 563.58,549.23 565.04,547.80 566.52,546.36 568.01,544.93 569.53,543.50 571.07,542.06 572.62,540.63 574.20,539.19 575.80,537.76 577.43,536.32 579.07,534.89 580.74,533.46 582.43,532.02 584.14,530.59 585.88,529.15 587.65,527.72 589.43,526.29 591.25,524.85 593.09,523.42 594.95,521.98 596.85,520.55 598.78,519.11 600.77,517.68 602.82,516.25 604.94,514.81 607.14,513.38 609.43,511.94 611.83,510.51 614.34,509.07 616.97,507.64 619.74,506.21 622.66,504.77 625.72,503.34 628.95,501.90 632.36,500.47 635.96,499.04 639.75,497.60 643.75,496.17 647.96,494.73 652.40,493.30 657.08,491.86 662.01,490.43 667.20,489.00" fill="none" stroke="#111" stroke-width="2.4" stroke-linejoin="round" stroke-linecap="round"/>
<polyline points="487.63,661.10 488.75,659.67 489.86,658.23 490.96,656.80 492.04,655.36 493.12,653.93 494.20,652.49 495.26,651.06 496.31,649.63 497.36,648.19 498.40,646.76 499.43,645.32 500.45,643.89 501.47,642.46 502.48,641.02 503.49,639.59 504.49,638.15 505.49,636.72 506.48,635.28 507.46,633.85 508.45,632.42 509.42,630.98 510.40,629.55 511.37,628.11 512.34,626.68 513.31,625.24 514.27,623.81 515.24,622.38 516.20,620.94 517.16,619.51 518.12,618.07 519.08,616.64 520.04,615.21 521.00,613.77 521.96,612.34 522.92,610.90 523.89,609.47 524.85,608.03 525.82,606.60 526.79,605.17 527.77,603.73 528.74,602.30 529.72,600.86 530.71,599.43 531.70,598.00 532.69,596.56 533.69,595.13 534.69,593.69 535.70,592.26 536.71,590.82 537.74,589.39 538.76,587.96 539.80,586.52 540.84,585.09 541.89,583.65 542.95,582.22 544.02,580.78 545.09,579.35 546.18,577.92 547.27,576.48 548.38,575.05 549.49,573.61 550.62,572.18 551.75,570.75 552.90,569.31 554.06,567.88 555.23,566.44 556.41,565.01 557.61,563.57 558.81,562.14 560.04,560.71 561.27,559.27 562.52,557.84 563.78,556.40 565.06,554.97 566.36,553.53 567.67,552.10 568.99,550.67 570.33,549.23 571.69,547.80 573.06,546.36 574.45,544.93 575.86,543.50 577.29,542.06 578.73,540.63 580.20,539.19 581.68,537.76 583.18,536.32 584.70,534.89 586.24,533.46 587.80,532.02 589.39,530.59 590.99,529.15 592.61,527.72 594.26,526.29 595.93,524.85 597.62,523.42 599.33,521.98 601.07,520.55 602.85,519.11 604.68,517.68 606.57,516.25 608.54,514.81 610.60,513.38 612.76,511.94 615.02,510.51 617.41,509.07 619.94,507.64 622.61,506.21 625.44,504.77 628.44,503.34 631.63,501.90 635.01,500.47 638.60,499.04 642.40,497.60 646.44,496.17 650.72,494.73 655.26,493.30 660.06,491.86 665.14,490.43 670.52,489.00" fill="none" stroke="#111" stroke-width="2.4" stroke-linejoin="round" stroke-linecap="round"/>
<polyline points="499.07,661.10 500.12,659.67 501.17,658.23 502.20,656.80 503.22,655.36 504.23,653.93 505.24,652.49 506.24,651.06 507.23,649.63 508.21,648.19 509.18,646.76 510.15,645.32 511.11,643.89 512.06,642.46 513.01,641.02 513.95,639.59 514.88,638.15 515.81,636.72 516.74,635.28 517.66,633.85 518.58,632.42 519.49,630.98 520.41,629.55 521.31,628.11 522.22,626.68 523.12,625.24 524.02,623.81 524.92,622.38 525.82,620.94 526.71,619.51 527.61,618.07 528.50,616.64 529.40,615.21 530.29,613.77 531.19,612.34 532.09,610.90 532.99,609.47 533.89,608.03 534.79,606.60 535.69,605.17 536.60,603.73 537.51,602.30 538.42,600.86 539.34,599.43 540.26,598.00 541.18,596.56 542.11,595.13 543.05,593.69 543.98,592.26 544.93,590.82 545.88,589.39 546.84,587.96 547.80,586.52 548.77,585.09 549.75,583.65 550.74,582.22 551.73,580.78 552.73,579.35 553.74,577.92 554.76,576.48 555.79,575.05 556.83,573.61 557.88,572.18 558.94,570.75 560.01,569.31 561.09,567.88 562.18,566.44 563.28,565.01 564.40,563.57 565.52,562.14 566.66,560.71 567.82,559.27 568.98,557.84 570.16,556.40 571.36,554.97 572.57,553.53 573.79,552.10 575.03,550.67 576.28,549.23 577.55,547.80 578.83,546.36 580.13,544.93 581.45,543.50 582.78,542.06 584.14,540.63 585.51,539.19 586.89,537.76 588.30,536.32 589.72,534.89 591.16,533.46 592.63,532.02 594.11,530.59 595.61,529.15 597.13,527.72 598.68,526.29 600.24,524.85 601.82,523.42 603.43,521.98 605.06,520.55 606.74,519.11 608.46,517.68 610.25,516.25 612.12,514.81 614.07,513.38 616.13,511.94 618.31,510.51 620.61,509.07 623.06,507.64 625.66,506.21 628.42,504.77 631.37,503.34 634.51,501.90 637.85,500.47 641.41,499.04 645.20,497.60 649.24,496.17 653.53,494.73 658.09,493.30 662.93,491.86 668.07,490.43 673.51,489.00" fill="none" stroke="#111" stroke-width="2.4" stroke-linejoin="round" stroke-linecap="round"/>
<polyline points="522.21,661.10 523.02,659.67 523.83,658.23 524.63,656.80 525.43,655.36 526.22,653.93 527.01,652.49 527.79,651.06 528.57,649.63 529.34,648.19 530.11,646.76 530.88,645.32 531.65,643.89 532.41,642.46 533.17,641.02 533.93,639.59 534.68,638.15 535.44,636.72 536.19,635.28 536.94,633.85 537.70,632.42 538.45,630.98 539.20,629.55 539.95,628.11 540.70,626.68 541.45,625.24 542.20,623.81 542.95,622.38 543.71,620.94 544.46,619.51 545.22,618.07 545.98,616.64 546.74,615.21 547.51,613.77 548.28,612.34 549.05,610.90 549.82,609.47 550.60,608.03 551.39,606.60 552.17,605.17 552.96,603.73 553.76,602.30 554.56,600.86 555.37,599.43 556.18,598.00 557.00,596.56 557.83,595.13 558.66,593.69 559.49,592.26 560.34,590.82 561.19,589.39 562.05,587.96 562.92,586.52 563.80,585.09 564.68,583.65 565.57,582.22 566.48,580.78 567.39,579.35 568.31,577.92 569.24,576.48 570.18,575.05 571.13,573.61 572.09,572.18 573.06,570.75 574.04,569.31 575.04,567.88 576.04,566.44 577.06,565.01 578.09,563.57 579.13,562.14 580.19,560.71 581.26,559.27 582.34,557.84 583.43,556.40 584.54,554.97 585.66,553.53 586.80,552.10 587.95,550.67 589.12,549.23 590.30,547.80 591.50,546.36 592.71,544.93 593.94,543.50 595.18,542.06 596.44,540.63 597.72,539.19 599.02,537.76 600.33,536.32 601.66,534.89 603.01,533.46 604.37,532.02 605.76,530.59 607.16,529.15 608.58,527.72 610.02,526.29 611.48,524.85 612.96,523.42 614.46,521.98 615.99,520.55 617.55,519.11 619.17,517.68 620.85,516.25 622.61,514.81 624.46,513.38 626.43,511.94 628.51,510.51 630.72,509.07 633.09,507.64 635.61,506.21 638.29,504.77 641.14,503.34 644.14,501.90 647.31,500.47 650.64,499.04 654.12,497.60 657.77,496.17 661.57,494.73 665.53,493.30 669.64,491.86 673.91,490.43 678.34,489.00" fill="none" stroke="#111" stroke-width="2.4" stroke-linejoin="round" stroke-linecap="round"/>
<polyline points="535.66,661.10 536.41,659.67 537.14,658.23 537.87,656.80 538.59,655.36 539.31,653.93 540.02,652.49 540.73,651.06 541.43,649.63 542.13,648.19 542.83,646.76 543.52,645.32 544.21,643.89 544.89,642.46 545.57,641.02 546.25,639.59 546.93,638.15 547.60,636.72 548.27,635.28 548.95,633.85 549.62,632.42 550.29,630.98 550.95,629.55 551.62,628.11 552.29,626.68 552.96,625.24 553.63,623.81 554.30,622.38 554.97,620.94 555.64,619.51 556.32,618.07 557.00,616.64 557.68,615.21 558.36,613.77 559.04,612.34 559.73,610.90 560.42,609.47 561.12,608.03 561.82,606.60 562.52,605.17 563.23,603.73 563.95,602.30 564.66,600.86 565.39,599.43 566.12,598.00 566.86,596.56 567.60,595.13 568.35,593.69 569.11,592.26 569.87,590.82 570.64,589.39 571.42,587.96 572.21,586.52 573.01,585.09 573.81,583.65 574.63,582.22 575.45,580.78 576.28,579.35 577.13,577.92 577.98,576.48 578.84,575.05 579.72,573.61 580.60,572.18 581.50,570.75 582.41,569.31 583.33,567.88 584.26,566.44 585.21,565.01 586.17,563.57 587.14,562.14 588.12,560.71 589.12,559.27 590.14,557.84 591.16,556.40 592.21,554.97 593.26,553.53 594.33,552.10 595.42,550.67 596.53,549.23 597.64,547.80 598.78,546.36 599.93,544.93 601.10,543.50 602.29,542.06 603.49,540.63 604.71,539.19 605.95,537.76 607.21,536.32 608.49,534.89 609.79,533.46 611.10,532.02 612.44,530.59 613.79,529.15 615.16,527.72 616.56,526.29 617.98,524.85 619.41,523.42 620.87,521.98 622.36,520.55 623.88,519.11 625.45,517.68 627.08,516.25 628.79,514.81 630.58,513.38 632.47,511.94 634.46,510.51 636.58,509.07 638.83,507.64 641.22,506.21 643.75,504.77 646.43,503.34 649.26,501.90 652.22,500.47 655.33,499.04 658.57,497.60 661.96,496.17 665.48,494.73 669.15,493.30 672.95,491.86 676.88,490.43 680.95,489.00" fill="none" stroke="#111" stroke-width="2.4" stroke-linejoin="round" stroke-linecap="round"/>
<polyline points="553.76,661.10 554.61,659.67 555.43,658.23 556.24,656.80 557.04,655.36 557.82,653.93 558.59,652.49 559.35,651.06 560.10,649.63 560.83,648.19 561.55,646.76 562.27,645.32 562.97,643.89 563.66,642.46 564.34,641.02 565.01,639.59 565.67,638.15 566.33,636.72 566.98,635.28 567.62,633.85 568.25,632.42 568.87,630.98 569.49,629.55 570.11,628.11 570.72,626.68 571.32,625.24 571.92,623.81 572.52,622.38 573.11,620.94 573.70,619.51 574.28,618.07 574.87,616.64 575.45,615.21 576.03,613.77 576.61,612.34 577.19,610.90 577.77,609.47 578.35,608.03 578.93,606.60 579.51,605.17 580.09,603.73 580.68,602.30 581.26,600.86 581.86,599.43 582.45,598.00 583.05,596.56 583.65,595.13 584.26,593.69 584.87,592.26 585.49,590.82 586.11,589.39 586.74,587.96 587.38,586.52 588.02,585.09 588.68,583.65 589.34,582.22 590.01,580.78 590.68,579.35 591.37,577.92 592.07,576.48 592.78,575.05 593.50,573.61 594.23,572.18 594.97,570.75 595.72,569.31 596.49,567.88 597.27,566.44 598.06,565.01 598.87,563.57 599.69,562.14 600.53,560.71 601.38,559.27 602.24,557.84 603.13,556.40 604.03,554.97 604.94,553.53 605.87,552.10 606.83,550.67 607.80,549.23 608.78,547.80 609.79,546.36 610.82,544.93 611.86,543.50 612.93,542.06 614.02,540.63 615.13,539.19 616.26,537.76 617.41,536.32 618.59,534.89 619.79,533.46 621.01,532.02 622.25,530.59 623.52,529.15 624.82,527.72 626.14,526.29 627.49,524.85 628.86,523.42 630.26,521.98 631.68,520.55 633.15,519.11 634.66,517.68 636.22,516.25 637.85,514.81 639.54,513.38 641.31,511.94 643.17,510.51 645.11,509.07 647.16,507.64 649.31,506.21 651.58,504.77 653.97,503.34 656.49,501.90 659.16,500.47 661.97,499.04 664.93,497.60 668.05,496.17 671.35,494.73 674.83,493.30 678.48,491.86 682.34,490.43 686.39,489.00" fill="none" stroke="#111" stroke-width="2.4" stroke-linejoin="round" stroke-linecap="round"/>
<text x="546.50" y="529.25" font-family="'Liberation Sans', Arial, sans-serif" font-size="8.4" font-weight="normal" fill="#333" text-anchor="start" textLength="25.50" lengthAdjust="spacingAndGlyphs" >Ta=150℃</text>
<text x="487.80" y="561.50" font-family="'Liberation Sans', Arial, sans-serif" font-size="8.4" font-weight="normal" fill="#333" text-anchor="start" textLength="25.00" lengthAdjust="spacingAndGlyphs" >Ta=125℃</text>
<text x="477.10" y="591.70" font-family="'Liberation Sans', Arial, sans-serif" font-size="8.4" font-weight="normal" fill="#333" text-anchor="start" textLength="25.70" lengthAdjust="spacingAndGlyphs" >Ta=100℃</text>
<text x="625.60" y="551.30" font-family="'Liberation Sans', Arial, sans-serif" font-size="8.4" font-weight="normal" fill="#333" text-anchor="start" textLength="21.40" lengthAdjust="spacingAndGlyphs" >Ta=75℃</text>
<text x="604.20" y="579.80" font-family="'Liberation Sans', Arial, sans-serif" font-size="8.4" font-weight="normal" fill="#333" text-anchor="start" textLength="21.40" lengthAdjust="spacingAndGlyphs" >Ta=25℃</text>
<text x="598.30" y="610.00" font-family="'Liberation Sans', Arial, sans-serif" font-size="8.4" font-weight="normal" fill="#333" text-anchor="start" textLength="18.50" lengthAdjust="spacingAndGlyphs" >Ta=0℃</text>
<text x="571.00" y="647.00" font-family="'Liberation Sans', Arial, sans-serif" font-size="8.4" font-weight="normal" fill="#333" text-anchor="start" textLength="23.70" lengthAdjust="spacingAndGlyphs" >Ta=-40℃</text>
<line x1="514.70" y1="561.40" x2="534.10" y2="576.80" stroke="#222" stroke-width="1.5"/>
<line x1="534.10" y1="576.80" x2="531.93" y2="572.30" stroke="#222" stroke-width="1.5"/>
<line x1="534.10" y1="576.80" x2="529.22" y2="575.70" stroke="#222" stroke-width="1.5"/>
<line x1="505.20" y1="587.50" x2="524.60" y2="602.20" stroke="#222" stroke-width="1.5"/>
<line x1="524.60" y1="602.20" x2="522.33" y2="597.75" stroke="#222" stroke-width="1.5"/>
<line x1="524.60" y1="602.20" x2="519.70" y2="601.21" stroke="#222" stroke-width="1.5"/>
<line x1="622.00" y1="548.30" x2="585.20" y2="543.60" stroke="#222" stroke-width="1.5"/>
<line x1="585.20" y1="543.60" x2="589.39" y2="546.33" stroke="#222" stroke-width="1.5"/>
<line x1="585.20" y1="543.60" x2="589.94" y2="542.01" stroke="#222" stroke-width="1.5"/>
<line x1="601.80" y1="573.25" x2="574.50" y2="570.40" stroke="#222" stroke-width="1.5"/>
<line x1="574.50" y1="570.40" x2="578.75" y2="573.03" stroke="#222" stroke-width="1.5"/>
<line x1="574.50" y1="570.40" x2="579.20" y2="568.70" stroke="#222" stroke-width="1.5"/>
<line x1="593.50" y1="605.30" x2="569.30" y2="600.60" stroke="#222" stroke-width="1.5"/>
<line x1="569.30" y1="600.60" x2="573.31" y2="603.59" stroke="#222" stroke-width="1.5"/>
<line x1="569.30" y1="600.60" x2="574.13" y2="599.32" stroke="#222" stroke-width="1.5"/>
<text x="446.20" y="480.80" font-family="'Liberation Serif', 'Times New Roman', serif" font-size="9.0" font-weight="normal" fill="#444" text-anchor="end" textLength="15.30" lengthAdjust="spacingAndGlyphs" >1000</text>
<text x="446.20" y="517.46" font-family="'Liberation Serif', 'Times New Roman', serif" font-size="9.0" font-weight="normal" fill="#444" text-anchor="end" textLength="11.80" lengthAdjust="spacingAndGlyphs" >100</text>
<text x="446.20" y="554.12" font-family="'Liberation Serif', 'Times New Roman', serif" font-size="9.0" font-weight="normal" fill="#444" text-anchor="end" textLength="8.00" lengthAdjust="spacingAndGlyphs" >10</text>
<text x="446.20" y="590.78" font-family="'Liberation Serif', 'Times New Roman', serif" font-size="9.0" font-weight="normal" fill="#444" text-anchor="end" textLength="3.60" lengthAdjust="spacingAndGlyphs" >1</text>
<text x="446.20" y="627.44" font-family="'Liberation Serif', 'Times New Roman', serif" font-size="9.0" font-weight="normal" fill="#444" text-anchor="end" textLength="10.00" lengthAdjust="spacingAndGlyphs" >0.1</text>
<text x="446.20" y="664.10" font-family="'Liberation Serif', 'Times New Roman', serif" font-size="9.0" font-weight="normal" fill="#444" text-anchor="end" textLength="14.00" lengthAdjust="spacingAndGlyphs" >0.01</text>
<text x="454.00" y="676.30" font-family="'Liberation Serif', 'Times New Roman', serif" font-size="9.8" font-weight="normal" fill="#444" text-anchor="middle" letter-spacing="1.2">0</text>
<text x="489.80" y="676.30" font-family="'Liberation Serif', 'Times New Roman', serif" font-size="9.8" font-weight="normal" fill="#444" text-anchor="middle" letter-spacing="1.2">0.2</text>
<text x="525.60" y="676.30" font-family="'Liberation Serif', 'Times New Roman', serif" font-size="9.8" font-weight="normal" fill="#444" text-anchor="middle" letter-spacing="1.2">0.4</text>
<text x="561.40" y="676.30" font-family="'Liberation Serif', 'Times New Roman', serif" font-size="9.8" font-weight="normal" fill="#444" text-anchor="middle" letter-spacing="1.2">0.6</text>
<text x="597.20" y="676.30" font-family="'Liberation Serif', 'Times New Roman', serif" font-size="9.8" font-weight="normal" fill="#444" text-anchor="middle" letter-spacing="1.2">0.8</text>
<text x="633.00" y="676.30" font-family="'Liberation Serif', 'Times New Roman', serif" font-size="9.8" font-weight="normal" fill="#444" text-anchor="middle" letter-spacing="1.2">1</text>
<text x="668.80" y="676.30" font-family="'Liberation Serif', 'Times New Roman', serif" font-size="9.8" font-weight="normal" fill="#444" text-anchor="middle" letter-spacing="1.2">1.2</text>
<text x="704.60" y="676.30" font-family="'Liberation Serif', 'Times New Roman', serif" font-size="9.8" font-weight="normal" fill="#444" text-anchor="middle" letter-spacing="1.2">1.4</text>
<text x="520.00" y="703.70" font-family="'Liberation Sans', Arial, sans-serif" font-size="12.4" font-weight="normal" fill="#333" text-anchor="start" textLength="123.20" lengthAdjust="spacingAndGlyphs" >V<tspan font-size="8.5">F</tspan>, Forward Voltage (V)</text>
<text transform="translate(419.30,631.60) rotate(-90)" font-family="'Liberation Sans', Arial, sans-serif" font-size="11.6" font-weight="normal" fill="#333" textLength="125.40" lengthAdjust="spacingAndGlyphs">I<tspan font-size="8">F</tspan>, Forward Current (mA)</text>
<text x="505.20" y="454.70" font-family="'Liberation Sans', Arial, sans-serif" font-size="11.6" font-weight="normal" fill="#333" text-anchor="start" textLength="154.80" lengthAdjust="spacingAndGlyphs" >Fig 4. Forward Characteristics</text>
<!-- footer -->
<rect x="30" y="1067.9" width="749.2" height="2.2" fill="#3ca069"/>
<text x="41.6" y="1094.2" font-family="'Liberation Sans', Arial, sans-serif" font-weight="bold" font-size="13" fill="#2f3c82" textLength="122" lengthAdjust="spacingAndGlyphs">www.yfwdiode.com</text>
<rect x="41.6" y="1096.3" width="122" height="2.2" fill="#3a52a6"/>
<text x="248" y="1095.5" font-family="'Liberation Sans', Arial, sans-serif" font-weight="bold" font-size="13" fill="#222" textLength="80" lengthAdjust="spacingAndGlyphs">Rev:2024CJ1</text>
<text x="407" y="1096" font-family="'Liberation Sans', Arial, sans-serif" font-weight="bold" font-size="11.5" fill="#222" textLength="23.5" lengthAdjust="spacingAndGlyphs">2 / 3</text>
<text x="495.2" y="1095" font-family="'Liberation Sans', Arial, sans-serif" font-weight="bold" font-size="13.2" fill="#222" textLength="288" lengthAdjust="spacingAndGlyphs">GuangDong Youfeng Microelectronics Co,Ltd.</text>
</svg>
</body></html>
